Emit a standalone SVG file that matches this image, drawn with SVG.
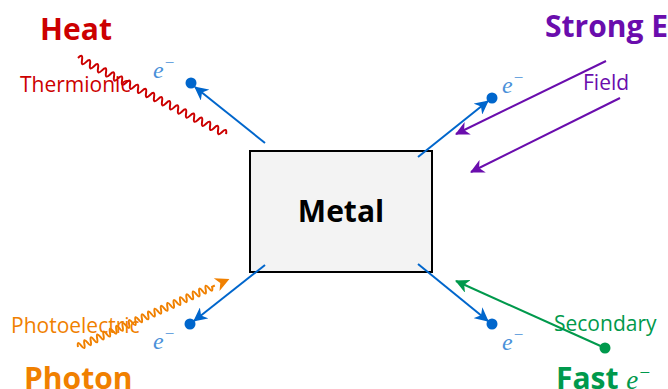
<svg xmlns="http://www.w3.org/2000/svg" width="668" height="389" viewBox="0 0 668 389">
<style>
.big{font-family:"Open Sans","Noto Sans",sans-serif;font-weight:bold;font-size:30px;}
.sm{font-family:"Open Sans","Noto Sans",sans-serif;font-size:21px;}
.el{font-family:"Liberation Serif","DejaVu Serif",serif;font-style:italic;font-size:24px;fill:#4a90d9;}
.bl{stroke:#0066cc;stroke-width:2;fill:none;}
.dot{fill:#0066cc;}
</style>
<defs>
<marker id="mb" markerUnits="userSpaceOnUse" markerWidth="16" markerHeight="14" refX="13" refY="7" orient="auto"><path d="M0,0 L14,7 L0,14 L4,7 z" fill="#0066cc"/></marker>
<marker id="mp" markerUnits="userSpaceOnUse" markerWidth="16" markerHeight="14" refX="13" refY="7" orient="auto"><path d="M0,0 L14,7 L0,14 L4,7 z" fill="#6a0dad"/></marker>
<marker id="mg" markerUnits="userSpaceOnUse" markerWidth="16" markerHeight="14" refX="13" refY="7" orient="auto"><path d="M0,0 L14,7 L0,14 L4,7 z" fill="#00994c"/></marker>
</defs>
<g id="metal">
<rect x="250" y="151" width="182" height="121" fill="#f3f3f3" stroke="#000" stroke-width="2"/>
<text class="big" x="341" y="222" text-anchor="middle" fill="#000">Metal</text>
</g>
<g id="heat">
<text class="big" x="76" y="40" text-anchor="middle" fill="#cc0000">Heat</text>
<text class="sm" x="20" y="92" fill="#cc0000">Thermionic</text>
</g>
<g id="strongE">
<text class="big" x="545" y="37" fill="#6a0dad">Strong E</text>
<text class="sm" x="583" y="90" fill="#6a0dad">Field</text>
</g>
<g id="photon">
<text class="sm" x="11" y="333" fill="#f08000">Photoelectric</text>
<text class="big" x="24" y="389" fill="#f08000">Photon</text>
</g>
<g id="fast">
<text class="sm" x="554" y="331" fill="#00994c">Secondary</text>
<text class="big" x="556" y="389" fill="#00994c">Fast <tspan class="el" style="fill:#00994c;font-size:27px;font-weight:normal">e<tspan dy="-10" font-size="19">−</tspan></tspan></text>
<circle cx="605" cy="348" r="5.5" fill="#00994c"/>
</g>
<g id="electrons">
<circle class="dot" cx="191" cy="83" r="5.5"/>
<circle class="dot" cx="492" cy="98" r="5.5"/>
<circle class="dot" cx="190" cy="324" r="5.5"/>
<circle class="dot" cx="492" cy="324" r="5.5"/>
<text class="el" x="153" y="78">e<tspan dy="-10" font-size="17">−</tspan></text>
<text class="el" x="502" y="93">e<tspan dy="-10" font-size="17">−</tspan></text>
<text class="el" x="153" y="349">e<tspan dy="-10" font-size="17">−</tspan></text>
<text class="el" x="502" y="350">e<tspan dy="-10" font-size="17">−</tspan></text>
</g>
<g id="connectors">
<line class="bl" x1="265" y1="143" x2="195" y2="87" marker-end="url(#mb)"/>
<line class="bl" x1="418" y1="157" x2="488" y2="101" marker-end="url(#mb)"/>
<line class="bl" x1="265" y1="265" x2="194" y2="321" marker-end="url(#mb)"/>
<line class="bl" x1="418" y1="264" x2="488" y2="321" marker-end="url(#mb)"/>
<line x1="606" y1="61" x2="456" y2="134" stroke="#6a0dad" stroke-width="2" marker-end="url(#mp)"/>
<line x1="620" y1="98" x2="471" y2="172" stroke="#6a0dad" stroke-width="2" marker-end="url(#mp)"/>
<line x1="605" y1="348" x2="456" y2="281" stroke="#00994c" stroke-width="2" marker-end="url(#mg)"/>
<path transform="translate(78,58) rotate(27.2)" fill="none" stroke="#cc0000" stroke-width="2" d="M0,0 q2.25,-7 4.5,0 t4.5,0 t4.5,0 t4.5,0 t4.5,0 t4.5,0 t4.5,0 t4.5,0 t4.5,0 t4.5,0 t4.5,0 t4.5,0 t4.5,0 t4.5,0 t4.5,0 t4.5,0 t4.5,0 t4.5,0 t4.5,0 t4.5,0 t4.5,0 t4.5,0 t4.5,0 t4.5,0 t4.5,0 t4.5,0 t4.5,0 t4.5,0 t4.5,0 t4.5,0 t4.5,0 t4.5,0 t4.5,0 t4.5,0 t4.5,0 t4.5,0 t4.5,0"/>
<g transform="translate(78,347) rotate(-24.2)">
<path fill="none" stroke="#f08000" stroke-width="2" d="M0,0 q1.75,-7 3.5,0 t3.5,0 t3.5,0 t3.5,0 t3.5,0 t3.5,0 t3.5,0 t3.5,0 t3.5,0 t3.5,0 t3.5,0 t3.5,0 t3.5,0 t3.5,0 t3.5,0 t3.5,0 t3.5,0 t3.5,0 t3.5,0 t3.5,0 t3.5,0 t3.5,0 t3.5,0 t3.5,0 t3.5,0 t3.5,0 t3.5,0 t3.5,0 t3.5,0 t3.5,0 t3.5,0 t3.5,0 t3.5,0 t3.5,0 t3.5,0 t3.5,0 t3.5,0 t3.5,0 t3.5,0 t3.5,0 t3.5,0 t3.5,0 l3,0"/>
<path d="M152,-7 L166,0 L152,7 L156,0 z" fill="#f08000"/>
</g>
</g>
</svg>
